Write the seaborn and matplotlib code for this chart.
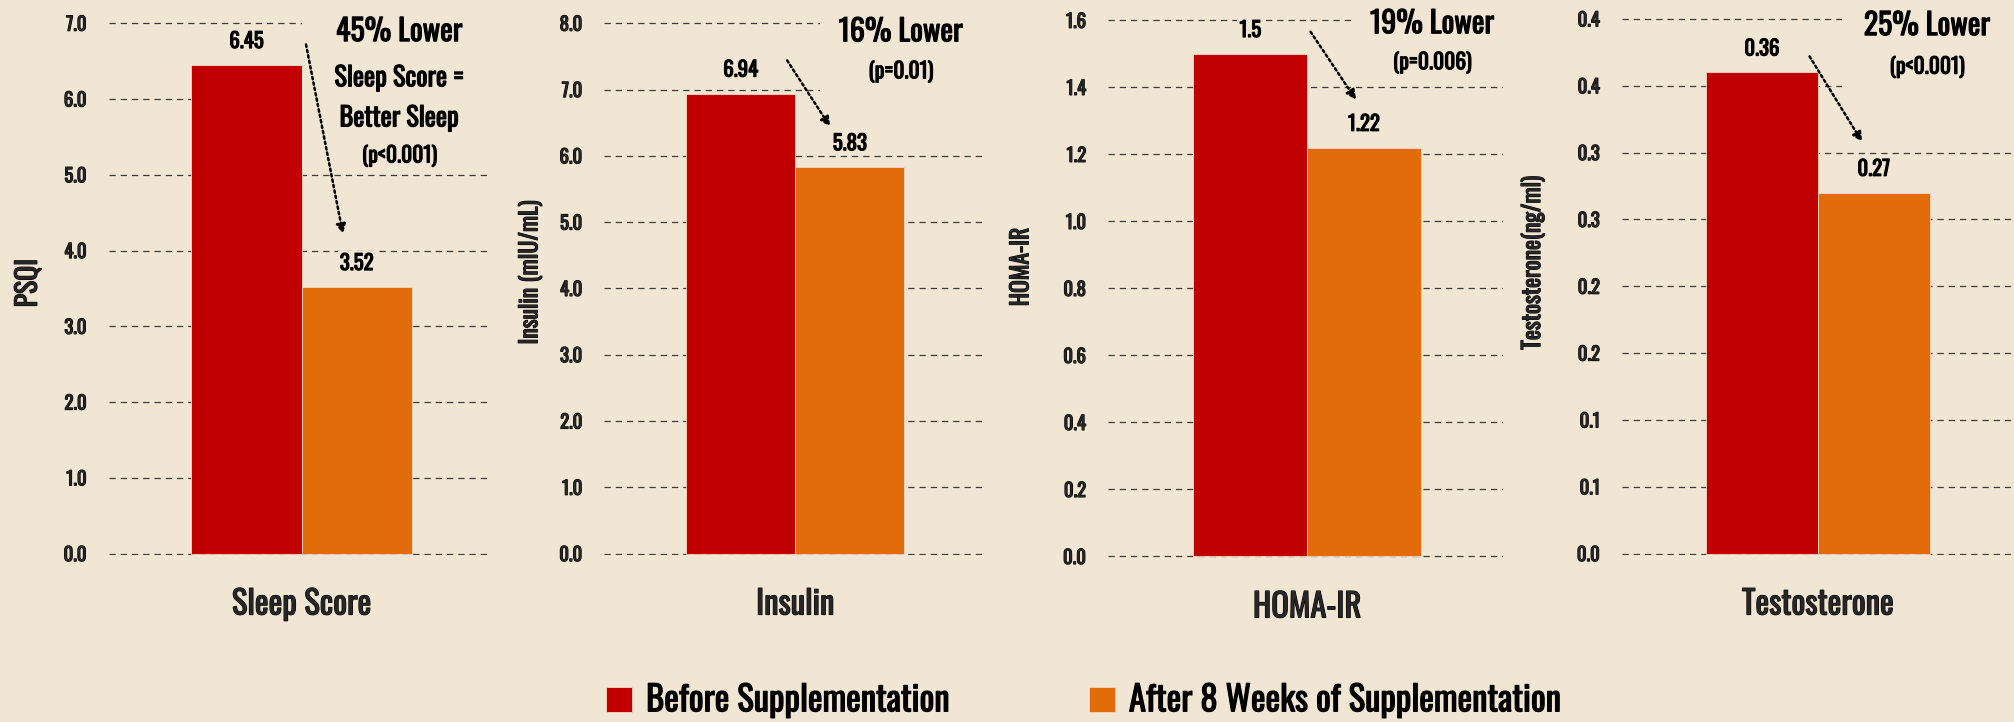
import matplotlib
matplotlib.use("Agg")
import matplotlib.pyplot as plt
import matplotlib.patches as mpatches
import matplotlib.patheffects as pe
from matplotlib.text import Text
import numpy as np
import pandas as pd
import seaborn as sns

# data
groups = ["Before Supplementation", "After 8 Weeks of Supplementation"]
measures = ["Sleep Score", "Insulin", "HOMA-IR", "Testosterone"]
before = [6.45, 6.94, 1.5, 0.36]
after = [3.52, 5.83, 1.22, 0.27]
ylabels = ["PSQI", "Insulin (mIU/mL)", "HOMA-IR", "Testosterone(ng/ml)"]
ymax = [7.0, 8.0, 1.6, 0.4]
ystep = [1.0, 1.0, 0.2, 0.05]
ticklabels_testo = ["0.0", "0.1", "0.1", "0.2", "0.2", "0.3", "0.3", "0.4", "0.4"]
headlines = ["45% Lower", "16% Lower", "19% Lower", "25% Lower"]
notes = [["Sleep Score =", "Better Sleep", "(p<0.001)"], ["(p=0.01)"], ["(p=0.006)"], ["(p<0.001)"]]

BG = "#F1E6D3"
RED = "#C00000"
ORANGE = "#E36C0A"

sns.set_theme(style="whitegrid")
plt.rcParams["font.family"] = ["Oswald", "Fjalla One", "DejaVu Sans"]
plt.rcParams["text.color"] = "black"

df = pd.DataFrame({
    "measure": np.repeat(measures, 2),
    "group": groups * len(measures),
    "value": [v for pair in zip(before, after) for v in pair],
})

fig = plt.figure(figsize=(20.15, 7.22), dpi=100, facecolor=BG)

# axes boxes (left, bottom, width, height) in figure fraction
boxes = [
    (0.054, 0.231, 0.190, 0.739),
    (0.300, 0.231, 0.188, 0.739),
    (0.550, 0.227, 0.196, 0.747),
    (0.805, 0.231, 0.193, 0.745),
]
label_xy = [(-0.175, 0.51), (-0.164, 0.53), (-0.192, 0.54), (-0.198, 0.543)]
label_size = [20, 17, 17, 17]
# annotation layout per panel
head_pos = [(0.355, 6.89), (0.387, 7.87), (0.44, 1.59), (0.39, 0.395)]
note_ys = [[6.28, 5.75, 5.25], [7.27], [1.474], [0.364]]
note_size = [[19, 19, 15.5], [15.5], [15.5], [15.5]]
arrows = [((0.016, 6.72), (0.15, 4.22)),
          ((-0.03, 7.44), (0.128, 6.44)),
          ((0.012, 1.566), (0.172, 1.363)),
          ((-0.03, 0.372), (0.158, 0.308))]
covers = [(0.0, 5.05), (0.09, 6.5), (0.16, 1.43), (0.085, 0.318)]

for i, m in enumerate(measures):
    ax = fig.add_axes(boxes[i])
    ax.set_facecolor(BG)
    sub = df[df["measure"] == m]
    sns.barplot(data=sub, x="measure", y="value", hue="group", hue_order=groups,
                palette=[RED, ORANGE], width=0.8, saturation=1, ax=ax,
                legend=False, edgecolor="#F6D9C8", linewidth=0.6)
    ax.set_xlim(-0.7, 0.69)
    ax.set_ylim(-ymax[i] * 0.003, ymax[i] * 1.003)
    ticks = np.arange(0, ymax[i] + ystep[i] / 2, ystep[i])
    ax.set_yticks(ticks)
    if i == 3:
        ax.set_yticklabels(ticklabels_testo)
    else:
        ax.set_yticklabels([f"{t:.1f}" for t in ticks])
    ax.grid(axis="y", color="#3a3a3a", linestyle=(0, (5, 4)), linewidth=0.9)
    ax.grid(axis="x", visible=False)
    ax.set_axisbelow(True)
    for s in ax.spines.values():
        s.set_visible(False)
    ax.tick_params(axis="y", length=0, pad=16, labelsize=13.5)
    ax.tick_params(axis="x", length=0, pad=24, labelsize=23.5)
    ax.set_xlabel("")
    ax.set_ylabel(ylabels[i], fontsize=label_size[i])
    ax.yaxis.set_label_coords(*label_xy[i])

    # background patch hiding gridlines behind the annotation
    cx, cy = covers[i]
    ax.add_patch(mpatches.Rectangle((cx, cy), 0.69 - cx, ymax[i] * 1.2, facecolor=BG,
                                    edgecolor="none", zorder=1.2, clip_on=False))

    for cont in ax.containers:
        ax.bar_label(cont, fmt="%g", padding=10, fontsize=15,
                     bbox=dict(facecolor=BG, edgecolor="none", pad=1.5), zorder=3)

    hx, hy = head_pos[i]
    ax.text(hx, hy, headlines[i], ha="center", va="center", fontsize=21.5, zorder=4)
    for ny, ntxt, ns in zip(note_ys[i], notes[i], note_size[i]):
        ax.text(hx, ny, ntxt, ha="center", va="center", fontsize=ns, zorder=4)

    (x0, y0), (x1, y1) = arrows[i]
    ax.annotate("", xy=(x1, y1), xytext=(x0, y0), zorder=5,
                arrowprops=dict(arrowstyle="-|>", linestyle=(0, (1, 1.2)), lw=1.8,
                                color="black", mutation_scale=14, shrinkA=0, shrinkB=0))

handles = [mpatches.Patch(facecolor=RED, edgecolor="#F6D9C8", linewidth=0.6),
           mpatches.Patch(facecolor=ORANGE, edgecolor="#F6D9C8", linewidth=0.6)]
fig.legend(handles, groups, loc="center", bbox_to_anchor=(0.538, 0.03), ncol=2,
           frameon=False, fontsize=25, handlelength=0.75, handleheight=0.75,
           handletextpad=0.4, columnspacing=4.0)

# the reference lettering is heavier than Oswald Regular: thicken it a little
for t in fig.findobj(Text):
    if t.get_text():
        t.set_path_effects([pe.withStroke(linewidth=0.8, foreground="black")])

fig.savefig("out.png", dpi=100, facecolor=BG)
